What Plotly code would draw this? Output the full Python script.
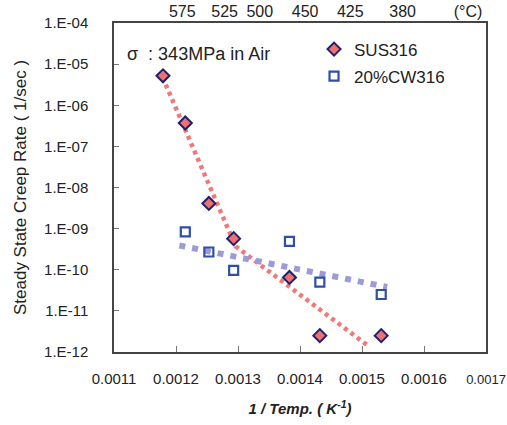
import plotly.graph_objects as go

# ---- data ----
sus_x = [0.001179, 0.001215, 0.001253, 0.001293, 0.001383, 0.001432, 0.001531]
sus_y = [5.2e-6, 3.7e-7, 4.1e-9, 5.7e-10, 6.5e-11, 2.5e-12, 2.5e-12]

cw_x = [0.001215, 0.001253, 0.001293, 0.001383, 0.001432, 0.001531]
cw_y = [8.3e-10, 2.7e-10, 9.7e-11, 4.9e-10, 5.0e-11, 2.5e-11]

# trend lines (as drawn)
sus_trend_x = [0.0011783, 0.0012962, 0.0015103]
sus_trend_y = [4.8e-6, 3.7e-10, 1.4e-12]
cw_trend_x = [0.0012054, 0.0015406]
cw_trend_y = [3.9e-10, 3.8e-11]

x_tickvals = [0.0011, 0.0012, 0.0013, 0.0014, 0.0015, 0.0016, 0.0017]
x_ticktext = ["0.0011", "0.0012", "0.0013", "0.0014", "0.0015", "0.0016",
              "<span style='font-size:13px'>0.0017</span>"]
y_tickvals = [1e-4, 1e-5, 1e-6, 1e-7, 1e-8, 1e-9, 1e-10, 1e-11, 1e-12]
y_ticktext = ["1.E-04", "1.E-05", "1.E-06", "1.E-07", "1.E-08", "1.E-09", "1.E-10", "1.E-11", "1.E-12"]
top_tickvals = [0.0012102, 0.0012784, 0.0013352, 0.0014082, 0.0014811, 0.0015656, 0.0016709]
top_ticktext = ["575", "525", "500", "450", "425", "380", "(°C)"]

X_RANGE = [0.0011 - 1e-9, 0.0017 + 1e-9]

FONT = "Liberation Sans, Arial, sans-serif"
RED = "#F27878"
BLUE_LINE = "#9B9BD8"

fig = go.Figure()

fig.add_trace(go.Scatter(x=sus_trend_x, y=sus_trend_y, mode="lines",
                         line=dict(color=RED, width=4.5, dash="4px,4px"),
                         showlegend=False, hoverinfo="skip"))
fig.add_trace(go.Scatter(x=cw_trend_x, y=cw_trend_y, mode="lines",
                         line=dict(color=BLUE_LINE, width=6, dash="6px,7px"),
                         showlegend=False, hoverinfo="skip"))

fig.add_trace(go.Scatter(x=sus_x, y=sus_y, mode="markers", name="SUS316",
                         legendgroup="a",
                         marker=dict(symbol="diamond", size=10, color="#F07070",
                                     line=dict(color="#1E2070", width=2))))
fig.add_trace(go.Scatter(x=cw_x, y=cw_y, mode="markers", name="20%CW316",
                         legendgroup="b",
                         marker=dict(symbol="square-open", size=9, color="#2E4FA8",
                                     line=dict(color="#2E4FA8", width=2.2))))

# invisible trace to activate top axis
fig.add_trace(go.Scatter(x=X_RANGE, y=[None, None], xaxis="x2",
                         mode="markers", showlegend=False, hoverinfo="skip"))

fig.update_layout(
    width=507, height=425,
    margin=dict(l=114, r=21, t=23, b=73),
    paper_bgcolor="white", plot_bgcolor="white",
    font=dict(family=FONT, color="#222222", size=15),
    xaxis=dict(range=X_RANGE, tickvals=x_tickvals, ticktext=x_ticktext,
               automargin=False, tickangle=0, ticklabeloverflow="allow",
               showgrid=False, zeroline=False, showline=True, linecolor="#444444",
               linewidth=1.5, mirror=True, ticks="inside", ticklen=6,
               tickcolor="#777777", ticklabelstandoff=12,
               tickfont=dict(size=15),
               title=dict(text="<b><i>1 / Temp. ( K<sup>-1</sup>)</i></b>",
                          font=dict(size=15), standoff=18)),
    xaxis2=dict(range=X_RANGE, overlaying="x", side="top", automargin=False,
                tickangle=0, ticklabeloverflow="allow",
                tickvals=top_tickvals, ticktext=top_ticktext, showgrid=False,
                zeroline=False, showline=False, ticks="", ticklabelstandoff=2,
                tickfont=dict(size=16)),
    yaxis=dict(type="log", range=[-12, -4], tickvals=y_tickvals, ticktext=y_ticktext,
               automargin=False,
               showgrid=False, zeroline=False, showline=True, linecolor="#444444",
               linewidth=1.5, mirror=True, ticks="inside", ticklen=5,
               tickcolor="#777777", ticklabelstandoff=21,
               tickfont=dict(size=15),
               title=dict(text="Steady State Creep Rate ( 1/sec )",
                          font=dict(size=17), standoff=13)),
    legend=dict(x=0.5377, y=0.974, xanchor="left", yanchor="top",
                bgcolor="rgba(0,0,0,0)", font=dict(size=17), tracegroupgap=2,
                itemwidth=30),
    annotations=[dict(text="σ  : 343MPa in Air", xref="paper", yref="paper",
                      x=0.0296, y=0.906, xanchor="left", yanchor="middle",
                      showarrow=False, font=dict(size=18))],
)

fig.write_html("out.html", config={"displayModeBar": False},
               post_script="document.body.style.margin='0';document.body.style.overflow='hidden';")
